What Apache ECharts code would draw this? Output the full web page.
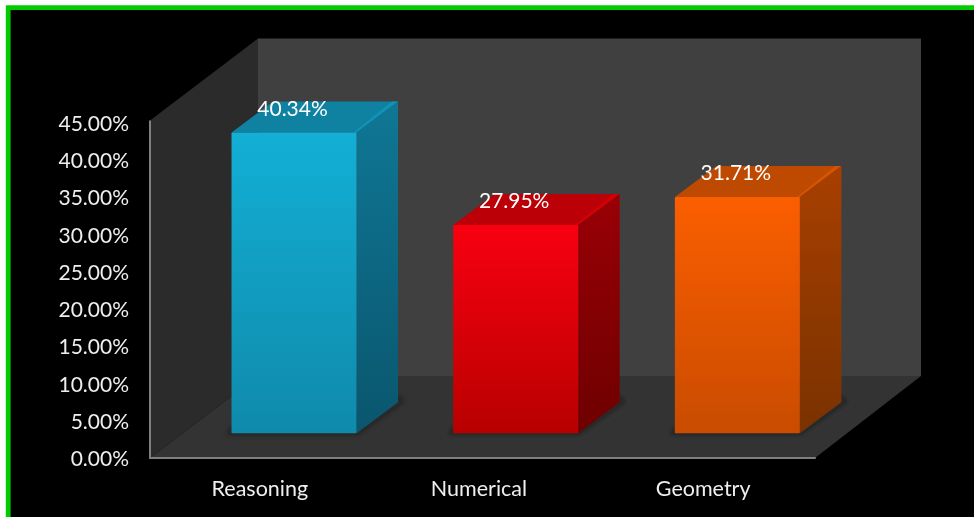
<!DOCTYPE html>
<html><head><meta charset="utf-8">
<style>html,body{margin:0;padding:0;background:#fff}#c{width:974px;height:517px}</style>
<script src="https://cdn.jsdelivr.net/npm/echarts@6/dist/echarts.min.js"></script>
</head><body><div id="c"></div>
<script>
const categories = ['Reasoning', 'Numerical', 'Geometry'];
const values = [40.34, 27.95, 31.71];
const valueLabels = ['40.34%', '27.95%', '31.71%'];
const faceTop = ['#13afd5', '#f80010', '#fb5e00'];
const faceBottom = ['#0f8aab', '#b80000', '#c94c00'];
const sideTop = ['#0f7795', '#990006', '#a83f00'];
const sideBottom = ['#0a566e', '#6e0000', '#7a3200'];
const roofColor = ['#0f82a2', '#bb0008', '#bd4a00'];
const roofEdge = ['#0f94b7', '#d40004', '#d65400'];

const DEPTH_X = 108, DEPTH_Y = -82;      // chart box depth
const BAR_DX = 41.5, BAR_DY = -31;       // bar depth
const BAR_W = 125, BAR_SHIFT_X = 33.2, BAR_SHIFT_Y = -24.7;
const AXIS_OVERHANG = 2;                 // wall and axis line rise a little above the top tick

const grad = (a, b) => ({type:'linear',x:0,y:0,x2:0,y2:1,colorStops:[{offset:0,color:a},{offset:1,color:b}]});
const poly = (pts, fill, extra) => ({type:'polygon',shape:{points:pts},style:Object.assign({fill:fill},extra||{})});

const chart = echarts.init(document.getElementById('c'), null, {renderer:'canvas'});
chart.setOption({
  animation:false,
  backgroundColor:'#ffffff',
  graphic:[{type:'rect',z:-10,silent:true,shape:{x:8.2,y:7.6,width:1100,height:700},
    style:{fill:'#000000',stroke:'#00cc00',lineWidth:4.8}}],
  grid:{left:150,top:122.5,width:665,height:335.5,containLabel:false},
  xAxis:{type:'category',data:categories,
    axisLine:{show:true,lineStyle:{color:'#7f7f7f',width:2}},axisTick:{show:false},
    axisLabel:{color:'#eeeeee',fontFamily:'Lato',fontSize:21.5,margin:20,
      formatter:(v,i)=>i===1?'{shift|'+v+'}':'{plain|'+v+'}',
      rich:{shift:{color:'#eeeeee',fontFamily:'Lato',fontSize:21.5,padding:[0,7,0,0]},
            plain:{color:'#eeeeee',fontFamily:'Lato',fontSize:21.5,padding:[0,2,0,0]}}},z:5},
  yAxis:{type:'value',min:0,max:45,interval:5,
    axisLine:{show:true,lineStyle:{color:'#7f7f7f',width:2}},axisTick:{show:false},splitLine:{show:false},
    axisLabel:{color:'#eeeeee',fontFamily:'Lato',fontSize:21,margin:21,
      formatter:v=>'{t|'+v.toFixed(2)+'%}',
      rich:{t:{color:'#eeeeee',fontFamily:'Lato',fontSize:21,padding:[3,0,0,0]}}},z:5},
  series:[
    {type:'custom',coordinateSystem:'cartesian2d',z:1,silent:true,data:[[0,0]],
     renderItem(p,api){
       const c=p.coordSys,l=c.x,r=c.x+c.width,t=c.y-AXIS_OVERHANG,b=c.y+c.height;
       return {type:'group',children:[
         poly([[l+DEPTH_X,t+DEPTH_Y],[r+DEPTH_X-2,t+DEPTH_Y],[r+DEPTH_X-2,b+DEPTH_Y],[l+DEPTH_X,b+DEPTH_Y]],'#404040'),
         poly([[l,t],[l+DEPTH_X,t+DEPTH_Y],[l+DEPTH_X,b+DEPTH_Y],[l,b]],'#2b2b2b'),
         poly([[l,b],[l+DEPTH_X,b+DEPTH_Y],[r+DEPTH_X-2,b+DEPTH_Y],[r,b]],'#333333'),
         {type:'line',shape:{x1:l,y1:t,x2:l,y2:c.y+1},style:{stroke:'#7f7f7f',lineWidth:2}}
       ]};
     }},
    {type:'custom',coordinateSystem:'cartesian2d',z:2,silent:true,
     data:values.map((v,i)=>[i,v]),
     encode:{x:0,y:1},
     renderItem(p,api){
       const i=api.value(0),top=api.coord([i,api.value(1)]),base=api.coord([i,0]);
       const x0=top[0]+BAR_SHIFT_X-BAR_W/2,x1=x0+BAR_W;
       const y0=top[1]+BAR_SHIFT_Y,y1=base[1]+BAR_SHIFT_Y;
       const dx=BAR_DX,dy=BAR_DY;
       return {type:'group',children:[
         poly([[x0-5,y1+1],[x1+1,y1+1],[x1+dx+6,y1+dy-1],[x1+dx,y1+dy-6],[x0,y1-6]],'#292929',{shadowBlur:5,shadowColor:'rgba(20,20,20,0.7)'}),
         poly([[x0,y0],[x0+dx,y0+dy],[x1+dx,y0+dy],[x1,y0]],roofColor[i]),
         poly([[x1-3,y0],[x1+dx-6,y0+dy],[x1+dx,y0+dy],[x1,y0]],roofEdge[i]),
         poly([[x1,y0],[x1+dx,y0+dy],[x1+dx,y1+dy],[x1,y1]],grad(sideTop[i],sideBottom[i])),
         {type:'rect',shape:{x:x0,y:y0,width:BAR_W,height:y1-y0,r:1},style:{fill:grad(faceTop[i],faceBottom[i])}},
         {type:'text',style:{x:top[0]+BAR_SHIFT_X-1.5,y:y0-23.5,text:valueLabels[i],align:'center',verticalAlign:'middle',
           fill:'#ffffff',fontFamily:'Lato',fontSize:21}}
       ]};
     }}
  ]
});
</script></body></html>
